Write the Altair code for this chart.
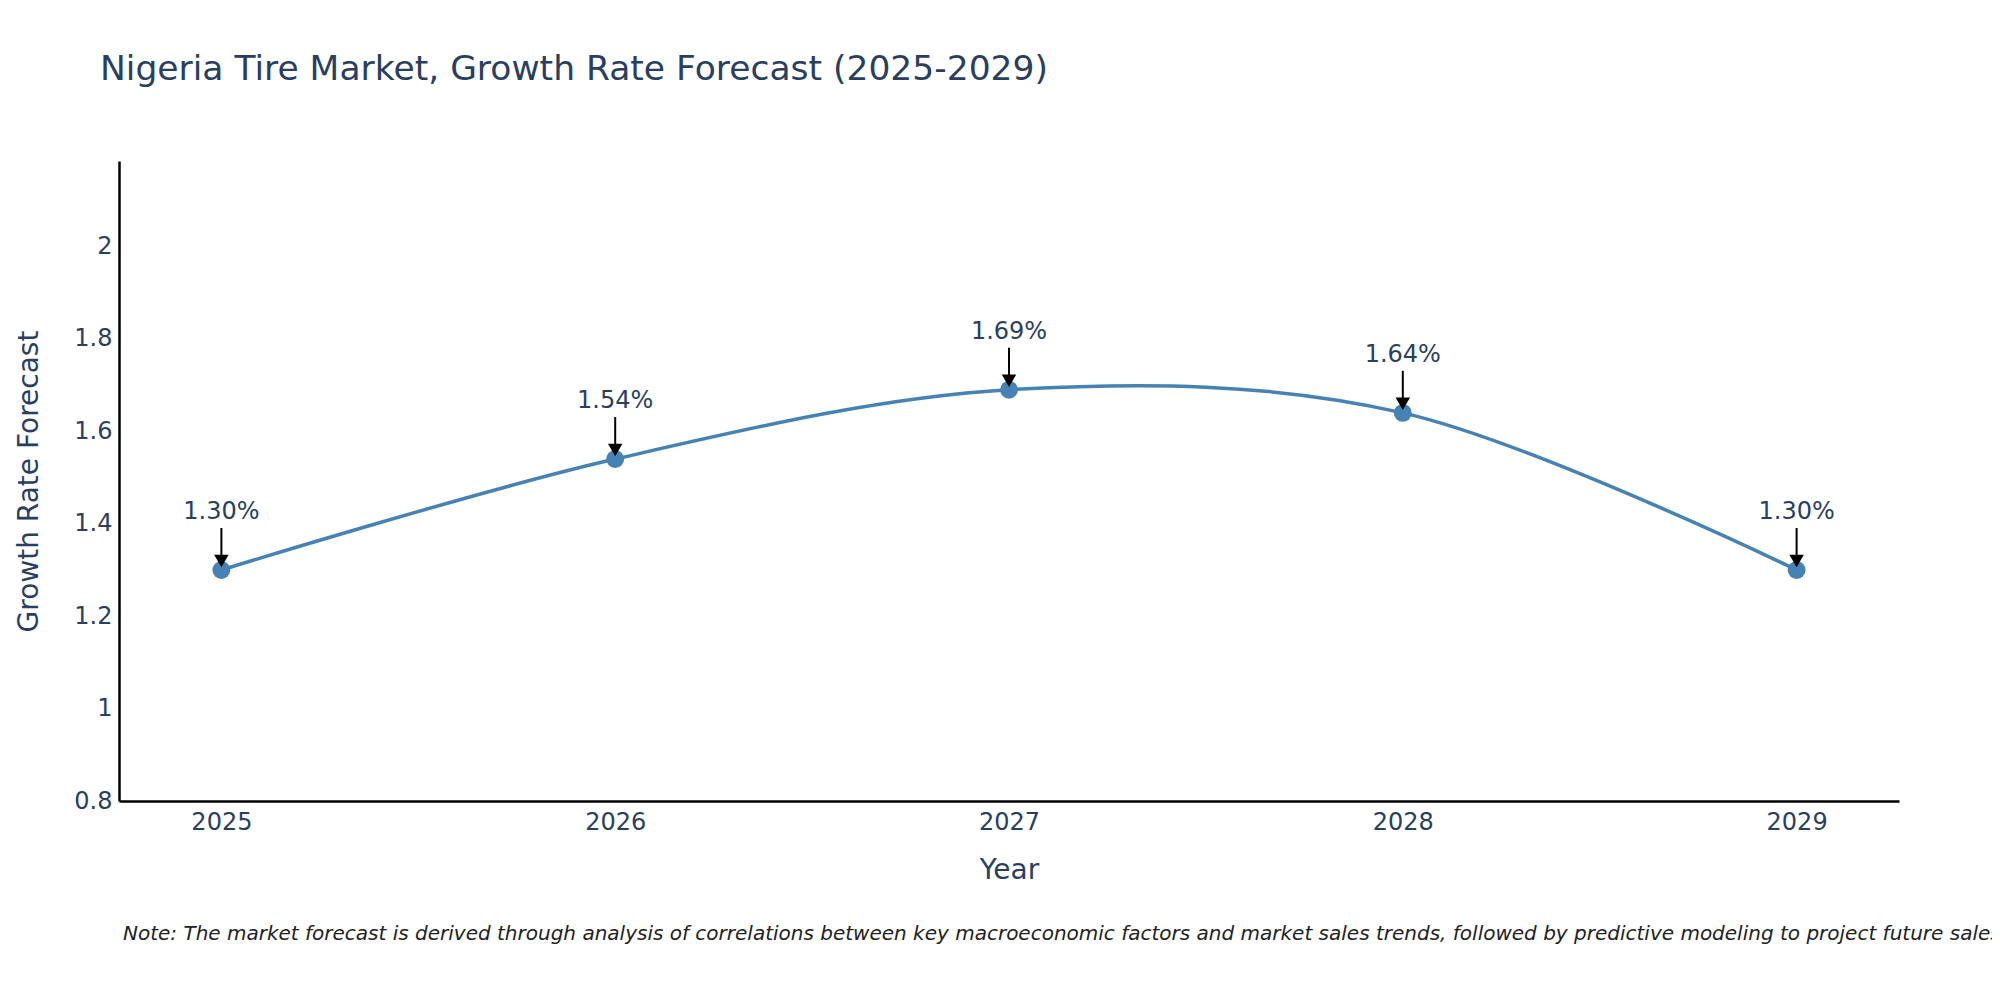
import altair as alt
import pandas as pd

years = [2025, 2026, 2027, 2028, 2029]
rates = [1.30, 1.54, 1.69, 1.64, 1.30]
labels = ["1.30%", "1.54%", "1.69%", "1.64%", "1.30%"]
y_ticks = [0.8, 1.0, 1.2, 1.4, 1.6, 1.8, 2.0]
title_text = "Nigeria Tire Market, Growth Rate Forecast (2025-2029)"
note_text = ("Note: The market forecast is derived through analysis of correlations between key "
             "macroeconomic factors and market sales trends, followed by predictive modeling to "
             "project future sales.")

df = pd.DataFrame({"Year": years, "Rate": rates, "Label": labels})
note_df = pd.DataFrame({"t": [note_text]})
title_df = pd.DataFrame({"t": [title_text]})

FONT = "DejaVu Sans"
TXT = "#2a3f5f"
BLUE = "#4682b4"

x = alt.X(
    "Year:Q",
    scale=alt.Scale(domain=[2024.74, 2029.26], nice=False, zero=False),
    axis=alt.Axis(values=years, format="d", title="Year", grid=False, ticks=False, tickSize=0,
                  domainColor="black", domainWidth=2.5, labelFontSize=24, labelColor=TXT,
                  labelFont=FONT, labelPadding=9, titleFontSize=28, titleColor=TXT,
                  titleFont=FONT, titleFontWeight="normal", titlePadding=22, labelFlush=False),
)
y = alt.Y(
    "Rate:Q",
    scale=alt.Scale(domain=[0.8, 2.185], nice=False, zero=False),
    axis=alt.Axis(values=y_ticks, format="~g", title="Growth Rate Forecast", grid=False,
                  ticks=False, tickSize=0, domainColor="black", domainWidth=2.5,
                  labelFontSize=24, labelColor=TXT, labelFont=FONT, labelPadding=7,
                  titleFontSize=28, titleColor=TXT, titleFont=FONT, titleFontWeight="normal",
                  titlePadding=30, labelFlush=False),
)

base = alt.Chart(df).encode(x=x, y=y)
line = base.mark_line(interpolate="cardinal", color=BLUE, strokeWidth=3.5)
pts = base.mark_point(filled=True, size=320, color=BLUE, opacity=1, shape="circle")
arrow = base.mark_rule(color="black", strokeWidth=2, yOffset=-42, y2Offset=-14).encode(
    y2=alt.Y2("Rate:Q"))
head = base.mark_point(shape="triangle-down", filled=True, size=210, color="black",
                       opacity=1, yOffset=-9)
text = base.mark_text(dy=-51, baseline="alphabetic", fontSize=24, font=FONT,
                      color=TXT).encode(text="Label:N")
note = alt.Chart(note_df).mark_text(align="left", baseline="middle", fontSize=20,
                                    font=FONT, fontStyle="italic", color="#222222").encode(
    x=alt.value(4), y=alt.value(773), text="t:N")
title = alt.Chart(title_df).mark_text(align="left", baseline="alphabetic", fontSize=34.5,
                                      font=FONT, color=TXT).encode(
    x=alt.value(-19), y=alt.value(-81), text="t:N")

chart = alt.layer(line, pts, arrow, head, text, note, title).properties(
    width=1780,
    height=640,
    background="white",
    autosize=alt.AutoSizeParams(type="none"),
    padding={"left": 111, "top": 153, "right": 93, "bottom": 191},
).configure_view(stroke=None)

chart.save("out.html", embed_options={"renderer": "svg", "actions": False})
